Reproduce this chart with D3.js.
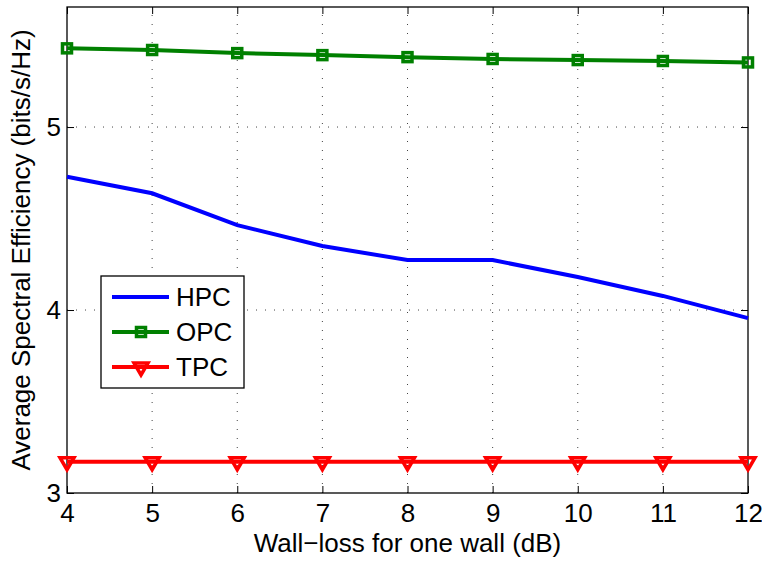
<!DOCTYPE html>
<html>
<head>
<meta charset="utf-8">
<script src="https://cdn.jsdelivr.net/npm/d3@7"></script>
<style>
  body { margin: 0; background: #fff; }
  text { font-family: "Liberation Sans", Arial, sans-serif; }
</style>
</head>
<body>
<div id="chart"></div>
<script>
// wall loss values (dB)
const wallLoss = [4, 5, 6, 7, 8, 9, 10, 11, 12];
const hpc = [4.728, 4.638, 4.464, 4.35, 4.273, 4.273, 4.18, 4.077, 3.956];
const opc = [5.430, 5.421, 5.404, 5.393, 5.382, 5.372, 5.366, 5.361, 5.353];
const tpc = [3.171, 3.171, 3.171, 3.171, 3.171, 3.171, 3.171, 3.171, 3.171];
const xTicks = [4, 5, 6, 7, 8, 9, 10, 11, 12];
const yTicks = [3, 4, 5];

const series = [
    {name: "HPC", values: hpc, color: "#0000ff", marker: null},
    {name: "OPC", values: opc, color: "#008000", marker: "square"},
    {name: "TPC", values: tpc, color: "#ff0000", marker: "triangle"}
];

const width = 762, height = 561;
const margin = {top: 7, right: 14, bottom: 68, left: 67};
const fontSize = 26;

const x = d3.scaleLinear().domain([4, 12]).range([margin.left, width - margin.right]);
const y = d3.scaleLinear().domain([3, 5.656]).range([height - margin.bottom, margin.top]);

const svg = d3.select("#chart").append("svg")
    .attr("width", width)
    .attr("height", height);

const x0 = margin.left, x1 = width - margin.right;
const y0 = height - margin.bottom, y1 = margin.top;

// dotted grid
svg.append("g")
    .selectAll("line")
    .data(xTicks.slice(1, -1))
    .join("line")
    .attr("x1", d => x(d)).attr("x2", d => x(d))
    .attr("y1", y0).attr("y2", y1)
    .attr("stroke", "#444").attr("stroke-width", 1)
    .attr("stroke-dasharray", "1,8");

svg.append("g")
    .selectAll("line")
    .data(yTicks.slice(1))
    .join("line")
    .attr("y1", d => y(d)).attr("y2", d => y(d))
    .attr("x1", x0).attr("x2", x1)
    .attr("stroke", "#444").attr("stroke-width", 1)
    .attr("stroke-dasharray", "1,8");

// axes (ticks inward, MATLAB style)
const tickLen = 7;
svg.append("g")
    .attr("transform", `translate(0,${y0})`)
    .call(d3.axisBottom(x).tickValues(xTicks).tickSize(-tickLen).tickPadding(11).tickFormat(d3.format("d")))
    .call(g => g.select(".domain").remove())
    .call(g => g.selectAll("text").attr("font-size", fontSize).attr("fill", "#000"));

svg.append("g")
    .attr("transform", `translate(0,${y1})`)
    .call(d3.axisTop(x).tickValues(xTicks).tickSize(-tickLen).tickFormat(""))
    .call(g => g.select(".domain").remove());

svg.append("g")
    .attr("transform", `translate(${x0},0)`)
    .call(d3.axisLeft(y).tickValues(yTicks).tickSize(-tickLen).tickPadding(6).tickFormat(d3.format("d")))
    .call(g => g.select(".domain").remove())
    .call(g => g.selectAll("text").attr("font-size", fontSize).attr("fill", "#000"));

svg.append("g")
    .attr("transform", `translate(${x1},0)`)
    .call(d3.axisRight(y).tickValues(yTicks).tickSize(-tickLen).tickFormat(""))
    .call(g => g.select(".domain").remove());

svg.append("rect")
    .attr("x", x0).attr("y", y1)
    .attr("width", x1 - x0).attr("height", y0 - y1)
    .attr("fill", "none").attr("stroke", "#000").attr("stroke-width", 1.3);

// lines
const line = d3.line()
    .x((d, i) => x(wallLoss[i]))
    .y(d => y(d));

function drawMarker(g, type, color) {
    if (type === "square") {
        g.append("rect")
            .attr("x", -4.5).attr("y", -4.5).attr("width", 9).attr("height", 9)
            .attr("fill", "none").attr("stroke", color).attr("stroke-width", 3.5);
    } else if (type === "triangle") {
        g.append("path")
            .attr("d", "M-7,-4L7,-4L0,8Z")
            .attr("fill", "none").attr("stroke", color).attr("stroke-width", 3.5)
            .attr("stroke-linejoin", "miter");
    }
}

series.forEach(s => {
    svg.append("path")
        .datum(s.values)
        .attr("d", line)
        .attr("fill", "none")
        .attr("stroke", s.color)
        .attr("stroke-width", 4);
    if (s.marker) {
        s.values.forEach((v, i) => {
            const g = svg.append("g").attr("transform", `translate(${x(wallLoss[i])},${y(v)})`);
            drawMarker(g, s.marker, s.color);
        });
    }
});

// legend
const legend = svg.append("g").attr("transform", "translate(101,276)");
legend.append("rect")
    .attr("width", 143).attr("height", 112)
    .attr("fill", "#fff").attr("stroke", "#000").attr("stroke-width", 1.3);
series.forEach((s, i) => {
    const ly = 21 + i * 35;
    legend.append("line")
        .attr("x1", 11).attr("x2", 68).attr("y1", ly).attr("y2", ly)
        .attr("stroke", s.color).attr("stroke-width", 4);
    if (s.marker) {
        const g = legend.append("g").attr("transform", `translate(40,${ly})`);
        drawMarker(g, s.marker, s.color);
    }
    legend.append("text")
        .attr("x", 75).attr("y", ly)
        .attr("dy", "0.36em")
        .attr("font-size", fontSize)
        .text(s.name);
});

// axis labels
svg.append("text")
    .attr("x", (x0 + x1) / 2)
    .attr("y", 552)
    .attr("text-anchor", "middle")
    .attr("font-size", fontSize)
    .text("Wall\u2212loss for one wall (dB)");

svg.append("text")
    .attr("transform", `translate(30,${(y0 + y1) / 2}) rotate(-90)`)
    .attr("text-anchor", "middle")
    .attr("font-size", fontSize)
    .text("Average Spectral Efficiency (bits/s/Hz)");
</script>
</body>
</html>
